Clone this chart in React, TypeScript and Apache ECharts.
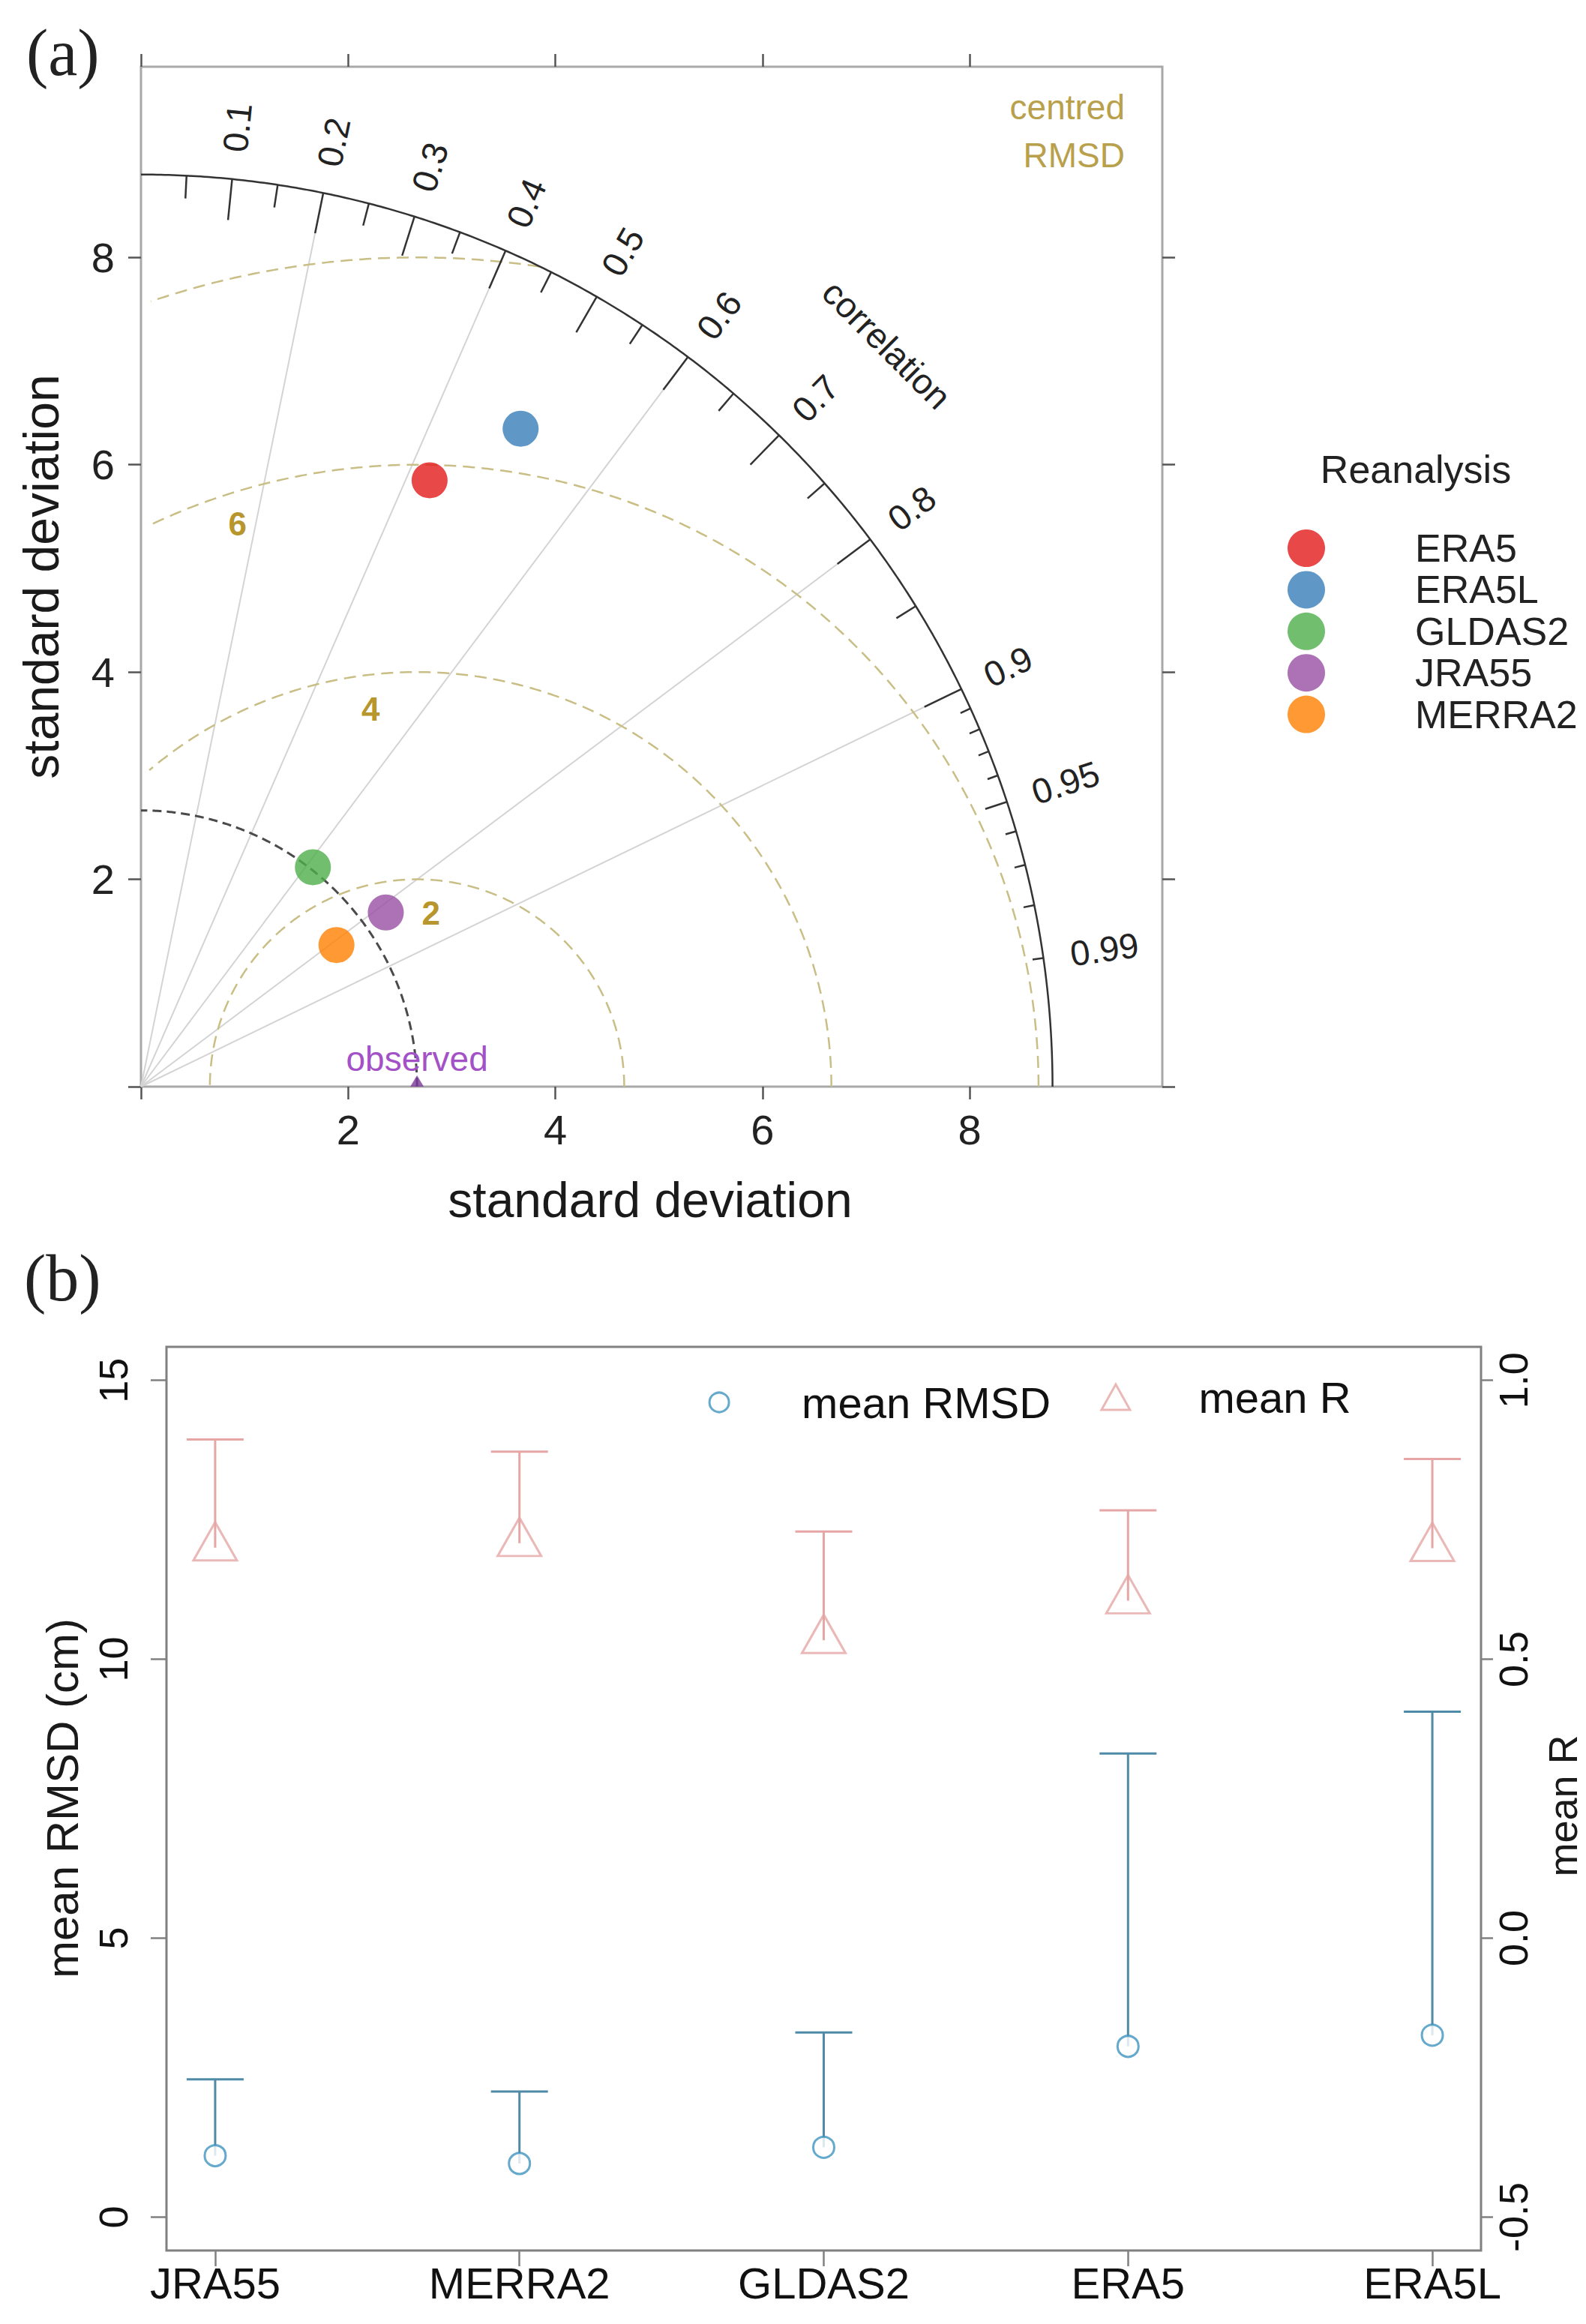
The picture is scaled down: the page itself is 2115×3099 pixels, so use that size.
import React, { useEffect, useRef } from 'react';
import * as echarts from 'echarts';

// ---------------- Panel (a): Taylor diagram ----------------
const reanalyses = ['ERA5', 'ERA5L', 'GLDAS2', 'JRA55', 'MERRA2'];
const reanalysisColors = ['#e41a1c', '#377eb8', '#4daf4a', '#984ea3', '#ff7f00'];
const taylorSD = [6.48, 7.33, 2.69, 2.9, 2.33];
const taylorCorr = [0.43, 0.5, 0.617, 0.815, 0.81];
const observedSD = 2.665;
const maxSD = 8.8;
const sdTicks = [0, 2, 4, 6, 8];
const sdTickLabels = [2, 4, 6, 8];
const corrGridLines = [0.2, 0.4, 0.6, 0.8, 0.9];
const corrBigTicks = [0.1, 0.2, 0.3, 0.4, 0.5, 0.6, 0.7, 0.8, 0.9];
const corrMedTicks = [0.05, 0.15, 0.25, 0.35, 0.45, 0.55, 0.65, 0.75, 0.85, 0.95];
const corrSmallTicks = [0.91, 0.92, 0.93, 0.94, 0.96, 0.97, 0.98, 0.99];
const corrTickLabels = [0.1, 0.2, 0.3, 0.4, 0.5, 0.6, 0.7, 0.8, 0.9, 0.95, 0.99];
const rmsdContours = [2, 4, 6, 8];
const rmsdContourLabels = [2, 4, 6];

// ---------------- Panel (b): mean RMSD / mean R ----------------
const products = ['JRA55', 'MERRA2', 'GLDAS2', 'ERA5', 'ERA5L'];
const meanRMSD = [1.1, 0.96, 1.25, 3.06, 3.26];
const meanRMSDUpper = [2.47, 2.25, 3.31, 8.31, 9.06];
const meanR = [0.7, 0.708, 0.534, 0.605, 0.699];
const meanRUpper = [0.894, 0.872, 0.729, 0.767, 0.859];
const rmsdTicks = [0, 5, 10, 15];
const rTicks = [-0.5, 0, 0.5, 1.0];

// ---------------- layout / style ----------------
const FONT = '"Liberation Sans", Arial, Helvetica, sans-serif';
const SERIF = '"Liberation Serif", "Times New Roman", serif';
const RMSD_COLOR = '#c9bf86';
const RMSD_LABEL_COLOR = '#b8962e';
const CORR_LABEL_R = 1.03;
// [angle (deg) about the observed point, fraction of contour radius]
const rmsdLabelPlacement = [
  [85.4, 0.84],
  [97.0, 0.918],
  [107.7, 0.95],
];
const annotations = [
  { x: 7.2, y: 7.16, text: 'correlation', rot: -Math.PI / 4, color: '#222', size: 47 },
  { x: observedSD, y: 0.27, text: 'observed', rot: 0, color: '#a252c6', size: 46 },
];

const deg = Math.PI / 180;
const polar = (r: number, c: number) => [r * c, r * Math.sqrt(1 - c * c)];
function arc(cx: number, r: number, a0: number, a1: number, keep: (x: number, y: number) => boolean) {
  const pts: number[][] = [];
  for (let a = a0; a <= a1 + 1e-9; a += 0.25) {
    const x = cx + r * Math.cos(a * deg);
    const y = r * Math.sin(a * deg);
    if (keep(x, y)) pts.push([x, y]);
  }
  return pts;
}

function buildOption(): any {
  const gA = { xAxisIndex: 0, yAxisIndex: 0 };
  const tickLines = [
    ...corrBigTicks.map((c) => ({ coords: [polar(maxSD * 0.955, c), polar(maxSD, c)] })),
    ...corrMedTicks.map((c) => ({ coords: [polar(maxSD * 0.975, c), polar(maxSD, c)] })),
    ...corrSmallTicks.map((c) => ({ coords: [polar(maxSD * 0.988, c), polar(maxSD, c)] })),
  ];

  const axisCommonA = {
    type: 'value',
    gridIndex: 0,
    splitLine: { show: false },
    axisLine: { show: false, onZero: false },
    axisTick: { show: true, length: 17, lineStyle: { color: '#555', width: 2.5 }, customValues: sdTicks },
  };

  const errorBar = (color: string) => (params: any, api: any) => {
    const x = api.value(0);
    const p0 = api.coord([x, api.value(1)]);
    const p1 = api.coord([x, api.value(2)]);
    const half = 38;
    return {
      type: 'group',
      children: [
        { type: 'line', shape: { x1: p0[0], y1: p0[1], x2: p1[0], y2: p1[1] }, style: { stroke: color, lineWidth: 3 } },
        { type: 'line', shape: { x1: p1[0] - half, y1: p1[1], x2: p1[0] + half, y2: p1[1] }, style: { stroke: color, lineWidth: 3 } },
      ],
    };
  };

  const textEl = (x: number, y: number, text: string, size: number, opts: any = {}) => ({
    type: 'text',
    x,
    y,
    rotation: opts.rotation || 0,
    style: {
      text,
      fontSize: size,
      fontFamily: opts.family || FONT,
      fill: opts.color || '#1a1a1a',
      align: opts.align || 'center',
      verticalAlign: 'middle',
    },
  });

  return {
    animation: false,
    backgroundColor: '#ffffff',
    grid: [
      { left: 188, top: 89, width: 1362, height: 1360, show: true, borderColor: '#a8a8a8', borderWidth: 3, backgroundColor: 'transparent' },
      { left: 222, top: 1796, width: 1753, height: 1205, show: true, borderColor: '#808080', borderWidth: 3, backgroundColor: 'transparent' },
    ],
    xAxis: [
      {
        ...axisCommonA,
        position: 'bottom',
        min: 0,
        max: 9.86,
        axisLabel: { customValues: sdTickLabels, margin: 29, fontSize: 56, fontFamily: FONT, color: '#222' },
      },
      {
        ...axisCommonA,
        position: 'top',
        min: 0,
        max: 9.86,
        axisLabel: { show: false },
      },
      {
        type: 'value',
        gridIndex: 1,
        position: 'bottom',
        min: 0.84,
        max: 5.16,
        splitLine: { show: false },
        axisLine: { show: false, onZero: false },
        axisTick: { show: true, length: 21, lineStyle: { color: '#808080', width: 2.5 }, customValues: [1, 2, 3, 4, 5] },
        axisLabel: {
          customValues: [1, 2, 3, 4, 5],
          formatter: (v: number) => products[Math.round(v) - 1],
          margin: 14,
          fontSize: 58,
          fontFamily: FONT,
          color: '#111',
        },
      },
    ],
    yAxis: [
      {
        ...axisCommonA,
        position: 'left',
        min: 0,
        max: 9.84,
        axisLabel: { customValues: sdTickLabels, margin: 35, fontSize: 56, fontFamily: FONT, color: '#222' },
      },
      {
        ...axisCommonA,
        position: 'right',
        min: 0,
        max: 9.84,
        axisLabel: { show: false },
      },
      {
        type: 'value',
        gridIndex: 1,
        position: 'left',
        min: -0.6,
        max: 15.6,
        splitLine: { show: false },
        axisLine: { show: false, onZero: false },
        axisTick: { show: true, length: 21, lineStyle: { color: '#808080', width: 2.5 }, customValues: rmsdTicks },
        axisLabel: { customValues: rmsdTicks, rotate: 90, margin: 44, fontSize: 54, fontFamily: FONT, color: '#111' },
      },
      {
        type: 'value',
        gridIndex: 1,
        position: 'right',
        min: -0.56,
        max: 1.06,
        splitLine: { show: false },
        axisLine: { show: false, onZero: false },
        axisTick: { show: true, length: 16, lineStyle: { color: '#808080', width: 2.5 }, customValues: rTicks },
        axisLabel: {
          customValues: rTicks,
          formatter: (v: number) => v.toFixed(1),
          rotate: 90,
          margin: 16,
          fontSize: 54,
          fontFamily: FONT,
          color: '#111',
        },
      },
    ],
    legend: [
      {
        data: reanalyses,
        orient: 'vertical',
        left: 1717,
        top: 705,
        padding: 0,
        itemWidth: 50,
        itemHeight: 50,
        itemGap: 3.4,
        icon: 'circle',
        selectedMode: false,
        textStyle: { fontSize: 52, fontFamily: FONT, color: '#222', lineHeight: 50, padding: [0, 0, 0, 115] },
      },
      {
        data: ['mean RMSD'],
        left: 944.6,
        top: 1841,
        padding: 0,
        itemWidth: 26,
        itemHeight: 26,
        selectedMode: false,
        itemStyle: { borderWidth: 3 },
        textStyle: { fontSize: 58, fontFamily: FONT, color: '#111', lineHeight: 26, padding: [0, 0, 0, 92] },
      },
      {
        data: ['mean R'],
        left: 1467.4,
        top: 1834,
        padding: 0,
        itemWidth: 38,
        itemHeight: 34,
        selectedMode: false,
        itemStyle: { borderWidth: 3 },
        textStyle: { fontSize: 58, fontFamily: FONT, color: '#111', lineHeight: 34, padding: [0, 0, 0, 86.6] },
      },
    ],
    graphic: [
      textEl(35, 70, '(a)', 88, { family: SERIF, align: 'left', color: '#222' }),
      textEl(32, 1704, '(b)', 88, { family: SERIF, align: 'left', color: '#222' }),
      textEl(867, 1600, 'standard deviation', 66),
      textEl(55, 769, 'standard deviation', 66, { rotation: Math.PI / 2 }),
      textEl(1500, 143, 'centred', 46, { align: 'right', color: '#b9a04c' }),
      textEl(1500, 207, 'RMSD', 46, { align: 'right', color: '#b9a04c' }),
      textEl(1888, 626, 'Reanalysis', 52, { color: '#222' }),
      textEl(83, 2398, 'mean RMSD (cm)', 60, { rotation: Math.PI / 2 }),
      textEl(2084, 2408, 'mean R', 54, { rotation: Math.PI / 2 }),
    ],
    series: [
      // correlation grid rays
      {
        type: 'lines',
        coordinateSystem: 'cartesian2d',
        ...gA,
        silent: true,
        z: 1,
        lineStyle: { color: '#d4d4d4', width: 2, opacity: 1 },
        data: corrGridLines.map((c) => ({ coords: [[0, 0], polar(maxSD, c)] })),
      },
      // centred RMSD contours
      ...rmsdContours.map((R) => ({
        type: 'line',
        ...gA,
        silent: true,
        z: 2,
        symbol: 'none',
        showSymbol: false,
        lineStyle: { color: RMSD_COLOR, width: 2.5, type: [16, 9] },
        data: arc(observedSD, R, 0, 180, (x, y) => x >= 0.08 && x * x + y * y <= maxSD * maxSD),
      })),
      // reference (observed) SD arc
      {
        type: 'line',
        ...gA,
        silent: true,
        z: 3,
        symbol: 'none',
        showSymbol: false,
        lineStyle: { color: '#4a4a4a', width: 3, type: [12, 7] },
        data: arc(0, observedSD, 0, 90, () => true),
      },
      // outer SD arc
      {
        type: 'line',
        ...gA,
        silent: true,
        z: 3,
        symbol: 'none',
        showSymbol: false,
        lineStyle: { color: '#333', width: 2.5 },
        data: arc(0, maxSD, 0, 90, () => true),
      },
      // correlation ticks on the outer arc
      {
        type: 'lines',
        coordinateSystem: 'cartesian2d',
        ...gA,
        silent: true,
        z: 3,
        lineStyle: { color: '#333', width: 2.5, opacity: 1 },
        data: tickLines,
      },
      // reanalysis points
      ...reanalyses.map((name, i) => ({
        type: 'scatter',
        name,
        ...gA,
        z: 6,
        symbol: 'circle',
        symbolSize: 48,
        itemStyle: { color: reanalysisColors[i] },
        data: [polar(taylorSD[i], taylorCorr[i])],
      })),
      // observed marker
      {
        type: 'scatter',
        ...gA,
        z: 6,
        clip: false,
        symbol: 'triangle',
        symbolSize: [18, 15],
        symbolOffset: [0, -7.5],
        itemStyle: { color: '#7a3a9a' },
        data: [[observedSD, 0]],
      },
      // correlation labels
      {
        type: 'custom',
        ...gA,
        z: 7,
        silent: true,
        encode: { x: 0, y: 1 },
        data: corrTickLabels.map((c) => [...polar(maxSD * CORR_LABEL_R, c), c]),
        renderItem: (params: any, api: any) => {
          const p = api.coord([api.value(0), api.value(1)]);
          const c = api.value(2) as number;
          return {
            type: 'text',
            x: p[0],
            y: p[1],
            rotation: Math.acos(c),
            style: { text: String(c), fill: '#222', fontSize: 47, fontFamily: FONT, align: 'left', verticalAlign: 'middle' },
          };
        },
      },
      // RMSD contour labels
      {
        type: 'custom',
        ...gA,
        z: 7,
        silent: true,
        encode: { x: 0, y: 1 },
        data: rmsdContourLabels.map((v, i) => {
          const [a, f] = rmsdLabelPlacement[i];
          return [observedSD + v * f * Math.cos(a * deg), v * f * Math.sin(a * deg), v];
        }),
        renderItem: (params: any, api: any) => {
          const p = api.coord([api.value(0), api.value(1)]);
          return {
            type: 'text',
            x: p[0],
            y: p[1],
            style: {
              text: String(api.value(2)),
              fill: RMSD_LABEL_COLOR,
              fontSize: 44,
              fontWeight: 'bold',
              fontFamily: FONT,
              align: 'center',
              verticalAlign: 'middle',
            },
          };
        },
      },
      // other annotations
      {
        type: 'custom',
        ...gA,
        z: 7,
        silent: true,
        encode: { x: 0, y: 1 },
        data: annotations.map((a) => [a.x, a.y]),
        renderItem: (params: any, api: any) => {
          const a = annotations[params.dataIndex];
          const p = api.coord([api.value(0), api.value(1)]);
          return {
            type: 'text',
            x: p[0],
            y: p[1],
            rotation: a.rot,
            style: { text: a.text, fill: a.color, fontSize: a.size, fontFamily: FONT, align: 'center', verticalAlign: 'middle' },
          };
        },
      },
      // ---- panel (b) ----
      {
        type: 'custom',
        xAxisIndex: 2,
        yAxisIndex: 2,
        z: 3,
        silent: true,
        encode: { x: 0, y: [1, 2] },
        data: products.map((p, i) => [i + 1, meanRMSD[i], meanRMSDUpper[i]]),
        renderItem: errorBar('#4f8aa6'),
      },
      {
        type: 'custom',
        xAxisIndex: 2,
        yAxisIndex: 3,
        z: 3,
        silent: true,
        encode: { x: 0, y: [1, 2] },
        data: products.map((p, i) => [i + 1, meanR[i], meanRUpper[i]]),
        renderItem: errorBar('#e6a6a6'),
      },
      {
        type: 'scatter',
        name: 'mean RMSD',
        xAxisIndex: 2,
        yAxisIndex: 2,
        z: 5,
        symbol: 'circle',
        symbolSize: 28,
        itemStyle: { color: '#ffffff', borderColor: '#3f93bf', borderWidth: 3 },
        data: products.map((p, i) => [i + 1, meanRMSD[i]]),
      },
      {
        type: 'scatter',
        name: 'mean R',
        xAxisIndex: 2,
        yAxisIndex: 3,
        z: 5,
        symbol: 'triangle',
        symbolSize: [58, 51],
        symbolOffset: [0, -8.5],
        itemStyle: { color: 'rgba(255,255,255,0)', borderColor: '#e6a6a6', borderWidth: 3 },
        data: products.map((p, i) => [i + 1, meanR[i]]),
      },
    ],
  };
}

export default function App() {
  const ref = useRef<HTMLDivElement>(null);
  useEffect(() => {
    document.body.style.margin = '0';
    const chart = echarts.init(ref.current as HTMLDivElement, null, { renderer: 'svg' });
    chart.setOption(buildOption());
    return () => chart.dispose();
  }, []);
  return <div ref={ref} style={{ width: 2115, height: 3099 }} />;
}
